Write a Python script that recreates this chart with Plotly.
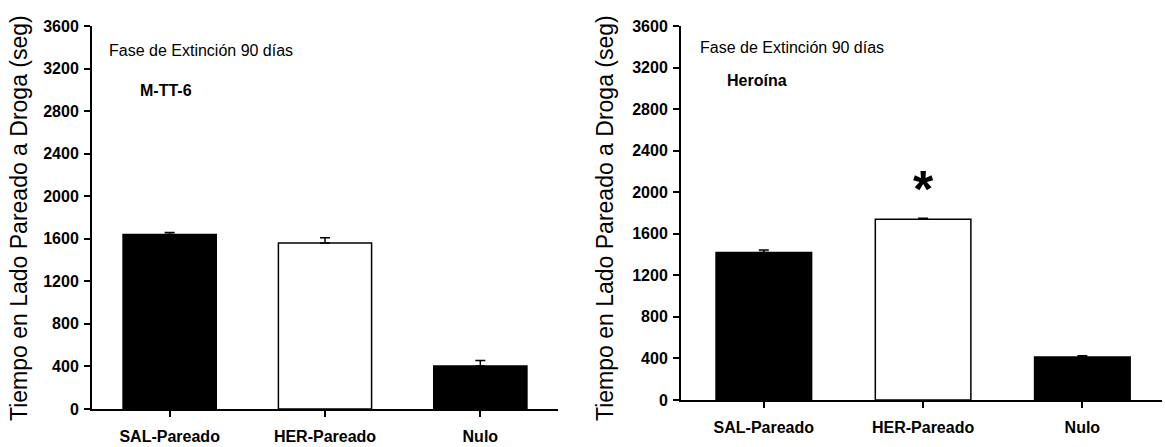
import plotly.graph_objects as go

# Data
categories = ["SAL-Pareado", "HER-Pareado", "Nulo"]
mtt6_mean = [1640, 1560, 405]
mtt6_sem = [20, 50, 50]
heroina_mean = [1420, 1740, 415]
heroina_sem = [25, 10, 12]
bar_colors = ["black", "white", "black"]
y_ticks = [0, 400, 800, 1200, 1600, 2000, 2400, 2800, 3200, 3600]
star_y = 2090

W, H = 1165, 447
FONT = "Liberation Sans, Arial, sans-serif"


def px_x(p):
    return p / W


def px_y(p):
    return (H - p) / H


fig = go.Figure()

for mean, sem, xa, ya in [
    (mtt6_mean, mtt6_sem, "x", "y"),
    (heroina_mean, heroina_sem, "x2", "y2"),
]:
    fig.add_trace(go.Bar(
        x=categories, y=mean, xaxis=xa, yaxis=ya, width=0.6,
        marker=dict(color=bar_colors, line=dict(color="black", width=1.5)),
        error_y=dict(type="data", array=sem, arrayminus=[0] * len(sem),
                     symmetric=False, color="black", thickness=1.5, width=5),
        showlegend=False, hoverinfo="skip",
    ))

axis_common = dict(
    showline=True, linecolor="black", linewidth=2, ticks="outside",
    tickcolor="black", tickwidth=2, ticklen=6, showgrid=False, zeroline=False,
    automargin=False,
    tickfont=dict(family=FONT, size=16, color="black", weight="bold"),
)
x_common = dict(ticklabelstandoff=6, **axis_common)
y_common = dict(ticklabelstandoff=2, **axis_common)

fig.update_layout(
    width=W, height=H, margin=dict(l=0, r=0, t=0, b=0, autoexpand=False),
    paper_bgcolor="white", plot_bgcolor="white",
    bargap=0.4,
    xaxis=dict(domain=[px_x(92), px_x(558)], range=[-0.5, 2.5], anchor="y",
               **x_common),
    yaxis=dict(domain=[px_y(409), px_y(26)], range=[0, 3600], tickvals=y_ticks,
               anchor="x", **y_common),
    xaxis2=dict(domain=[px_x(681), px_x(1162)], range=[-0.52, 2.5], anchor="y2",
                **x_common),
    yaxis2=dict(domain=[px_y(400), px_y(26)], range=[0, 3600], tickvals=y_ticks,
                anchor="x2", **y_common),
)

ytitle = "Tiempo en Lado Pareado a Droga (seg)"
annotations = [
    dict(text=ytitle, x=px_x(19), y=px_y(218), xref="paper", yref="paper",
         textangle=-90, showarrow=False, xanchor="center", yanchor="middle",
         font=dict(family=FONT, size=23, color="black")),
    dict(text=ytitle, x=px_x(605), y=px_y(218), xref="paper", yref="paper",
         textangle=-90, showarrow=False, xanchor="center", yanchor="middle",
         font=dict(family=FONT, size=23, color="black")),
    dict(text="Fase de Extinción 90 días", x=px_x(107), y=px_y(50),
         xref="paper", yref="paper", showarrow=False, xanchor="left",
         yanchor="middle", font=dict(family=FONT, size=16, color="black")),
    dict(text="<b>M-TT-6</b>", x=px_x(138), y=px_y(90),
         xref="paper", yref="paper", showarrow=False, xanchor="left",
         yanchor="middle", font=dict(family=FONT, size=16, color="black")),
    dict(text="Fase de Extinción 90 días", x=px_x(698), y=px_y(47),
         xref="paper", yref="paper", showarrow=False, xanchor="left",
         yanchor="middle", font=dict(family=FONT, size=16, color="black")),
    dict(text="<b>Heroína</b>", x=px_x(725), y=px_y(80),
         xref="paper", yref="paper", showarrow=False, xanchor="left",
         yanchor="middle", font=dict(family=FONT, size=16, color="black")),
    dict(text="<b>*</b>", x="HER-Pareado", y=star_y, xref="x2", yref="y2",
         showarrow=False, xanchor="center", yanchor="middle", yshift=-6,
         font=dict(family=FONT, size=52, color="black")),
]
fig.update_layout(annotations=annotations)

fig.write_html("out.html")
